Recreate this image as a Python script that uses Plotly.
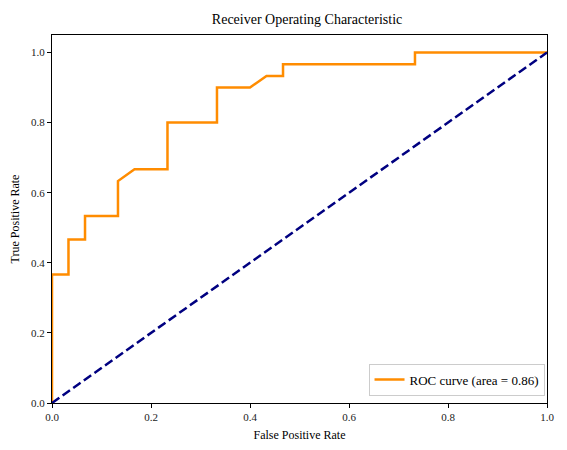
import plotly.graph_objects as go

# ROC curve points
fpr = [0.0, 0.0, 0.0333, 0.0333, 0.0667, 0.0667, 0.1333, 0.1333, 0.1667, 0.2333, 0.2333,
       0.3333, 0.3333, 0.4, 0.4333, 0.4667, 0.4667, 0.7333, 0.7333, 1.0]
tpr = [0.0, 0.3667, 0.3667, 0.4667, 0.4667, 0.5333, 0.5333, 0.6333, 0.6667, 0.6667, 0.8,
       0.8, 0.9, 0.9, 0.9333, 0.9333, 0.9667, 0.9667, 1.0, 1.0]
roc_auc = 0.86
chance = [0.0, 1.0]
ticks = [0.0, 0.2, 0.4, 0.6, 0.8, 1.0]

FONT = "Liberation Serif"

fig = go.Figure()
fig.add_trace(go.Scatter(x=fpr, y=tpr, mode="lines", line=dict(color="darkorange", width=2.5),
                         name=f"ROC curve (area = {roc_auc:.2f})"))
fig.add_trace(go.Scatter(x=chance, y=chance, mode="lines", showlegend=False,
                         line=dict(color="navy", width=2.5, dash="9px,4px")))

axis_style = dict(showgrid=False, zeroline=False, showline=True, linecolor="black", linewidth=1,
                  mirror=True, ticks="outside", ticklen=4, tickcolor="black", tickvals=ticks,
                  ticktext=[f"{t:.1f}" for t in ticks], tickfont=dict(size=11, color="#222"),
                  automargin=False)
fig.update_xaxes(range=[0, 1], title=dict(text="False Positive Rate", font=dict(size=12), standoff=8),
                 **axis_style)
fig.update_yaxes(range=[0, 1.05], title=dict(text="True Positive Rate", font=dict(size=12), standoff=8),
                 **axis_style)

# page body adds an 8px offset, so the figure is a bit smaller than the window
fig.update_layout(
    width=559, height=442,
    margin=dict(l=44, r=20, t=27, b=47),
    paper_bgcolor="white", plot_bgcolor="white",
    font=dict(family=FONT, color="black"),
    title=dict(text="Receiver Operating Characteristic", x=0.535, xanchor="center", y=0.975,
               yanchor="middle", font=dict(size=14)),
    legend=dict(x=0.995, y=0.02, xanchor="right", yanchor="bottom", bgcolor="white",
                bordercolor="#ccc", borderwidth=1, font=dict(size=13)),
)
fig.write_html("out.html")
